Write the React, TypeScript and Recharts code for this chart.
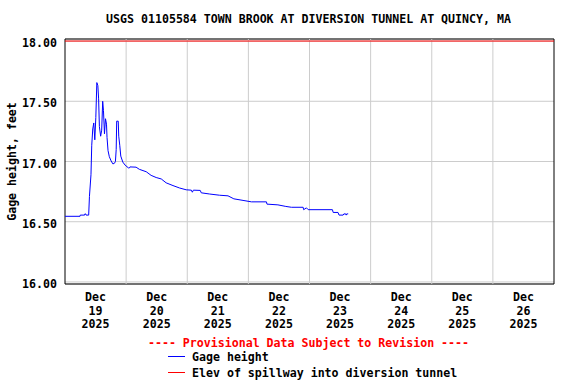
import {
  LineChart,
  Line,
  XAxis,
  YAxis,
  CartesianGrid,
  ReferenceLine,
  ReferenceArea,
} from 'recharts'

// hours since Dec 19 2025 00:00
const hours = [
  0, 5.9, 6.0, 7.7, 7.8, 8.1, 8.3, 9.3, 9.6, 10.2, 10.5, 10.9, 11.3, 11.7, 12.1, 12.5,
  12.9, 13.2, 13.5, 14.0, 14.4, 14.8, 15.1, 15.5, 15.9, 16.3, 16.5, 16.9, 17.4, 18.1,
  18.8, 19.4, 19.8, 20.1, 20.3, 20.9, 21.1, 21.5, 21.9, 22.7, 23.6, 24.9, 25.3, 25.5,
  27.9, 29.2, 31.9, 33.8, 35.8, 37.8, 39.7, 42.4, 45.0, 47.6, 49.6, 50.0, 50.4, 53.1,
  53.5, 56.8, 60.7, 64.0, 66.3, 69.9, 73.2, 79.1, 79.3, 83.6, 86.7, 88.9, 93.5, 93.7,
  94.8, 95.5, 105.0, 105.3, 107.2, 107.6, 109.2, 109.5, 110.2, 110.4, 110.6, 111.2,
]

// gage height, feet
const gageHeight = [
  16.545, 16.545, 16.555, 16.555, 16.565, 16.565, 16.555, 16.555, 16.71, 16.89, 17.135,
  17.27, 17.32, 17.18, 17.365, 17.655, 17.63, 17.52, 17.29, 17.21, 17.26, 17.5, 17.425,
  17.23, 17.355, 17.31, 17.2, 17.09, 17.04, 17.005, 16.98, 16.985, 17.0, 17.1, 17.335,
  17.335, 17.21, 17.135, 17.045, 16.995, 16.97, 16.947, 16.947, 16.955, 16.953, 16.935,
  16.915, 16.885, 16.867, 16.855, 16.823, 16.8, 16.78, 16.765, 16.762, 16.745, 16.762,
  16.76, 16.74, 16.73, 16.72, 16.715, 16.69, 16.677, 16.665, 16.665, 16.646, 16.64,
  16.627, 16.62, 16.62, 16.6, 16.615, 16.6, 16.6, 16.577, 16.577, 16.555, 16.555,
  16.565, 16.565, 16.555, 16.565, 16.565,
]

const spillwayElev = 18.0

const dayBoundaries = [24, 48, 72, 96, 120, 144, 168]
const labelHours = [12, 36, 60, 84, 108, 132, 156, 180]
const dayLabels = ['19', '20', '21', '22', '23', '24', '25', '26']
const yTicks = [16.0, 16.5, 17.0, 17.5, 18.0]

const legendItems = [
  { label: 'Gage height', color: '#0000ff' },
  { label: 'Elev of spillway into diversion tunnel', color: '#ff0000' },
]

const X_DOMAIN = [0, 192]
const Y_DOMAIN = [15.983, 18.017]

const FONT = '"DejaVu Sans Mono", monospace'
const chartData = hours.map((h, i) => ({ h, gage: gageHeight[i] }))

const DayTick = (props: any) => {
  const { x, y, payload } = props
  const i = labelHours.indexOf(payload.value)
  return (
    <text x={x} y={y} textAnchor="middle" fontFamily={FONT} fontWeight="bold" fontSize={11.6} fill="#000">
      <tspan x={x} dy={9}>Dec</tspan>
      <tspan x={x} dy={13.5}>{dayLabels[i]}</tspan>
      <tspan x={x} dy={13.5}>2025</tspan>
    </text>
  )
}

export default function App() {
  return (
    <div style={{ position: 'absolute', left: 0, top: 0, width: 576, height: 384, background: '#fff', fontFamily: FONT }}>
      <div
        style={{
          position: 'absolute',
          left: 0,
          width: 617,
          top: 12,
          textAlign: 'center',
          fontSize: 11.6,
          fontWeight: 'bold',
          whiteSpace: 'pre',
        }}
      >
        USGS 01105584 TOWN BROOK AT DIVERSION TUNNEL AT QUINCY, MA
      </div>

      <LineChart
        width={576}
        height={384}
        data={chartData}
        margin={{ top: 39, right: 22, left: 0, bottom: 40 }}
        style={{ position: 'absolute', left: 0, top: 0 }}
      >
        <CartesianGrid vertical={false} stroke="#cccccc" />
        {dayBoundaries.map(d => (
          <ReferenceLine key={d} x={d} stroke="#cccccc" />
        ))}
        <XAxis
          dataKey="h"
          type="number"
          domain={X_DOMAIN}
          ticks={labelHours}
          tick={<DayTick />}
          axisLine={false}
          tickLine={false}
          height={60}
          interval={0}
        />
        <YAxis
          type="number"
          domain={Y_DOMAIN}
          ticks={yTicks}
          width={65}
          axisLine={false}
          tickLine={false}
          tickFormatter={(v: number) => v.toFixed(2)}
          tick={{ fontFamily: FONT, fontWeight: 'bold', fontSize: 11.6, fill: '#000', dy: 2 }}
          label={{
            value: 'Gage height, feet',
            angle: -90,
            position: 'insideLeft',
            offset: 12,
            style: { fontFamily: FONT, fontWeight: 'bold', fontSize: 11.6, fill: '#000', textAnchor: 'middle' },
          }}
        />
        <ReferenceLine y={spillwayElev} stroke="#ff0000" />
        <Line
          type="linear"
          dataKey="gage"
          stroke="#0000ff"
          strokeWidth={1}
          dot={false}
          isAnimationActive={false}
        />
        <ReferenceArea
          x1={X_DOMAIN[0]}
          x2={X_DOMAIN[1]}
          y1={Y_DOMAIN[0]}
          y2={Y_DOMAIN[1]}
          fill="none"
          stroke="#000"
          strokeWidth={1}
        />
      </LineChart>

      <div style={{ position: 'absolute', left: 0, width: 617, top: 336, textAlign: 'center', fontSize: 11.6, fontWeight: 'bold', color: '#ff0000', whiteSpace: 'pre' }}>
        ---- Provisional Data Subject to Revision ----
      </div>
      {legendItems.map((item, i) => (
        <div
          key={item.label}
          style={{ position: 'absolute', left: 168, top: 350 + i * 16, height: 14, fontSize: 11.6, fontWeight: 'bold', whiteSpace: 'pre', display: 'flex', alignItems: 'center' }}
        >
          <svg width={17} height={14} style={{ marginRight: 7 }}>
            <line x1={0} x2={17} y1={6.5} y2={6.5} stroke={item.color} strokeWidth={1} />
          </svg>
          {item.label}
        </div>
      ))}
    </div>
  )
}
